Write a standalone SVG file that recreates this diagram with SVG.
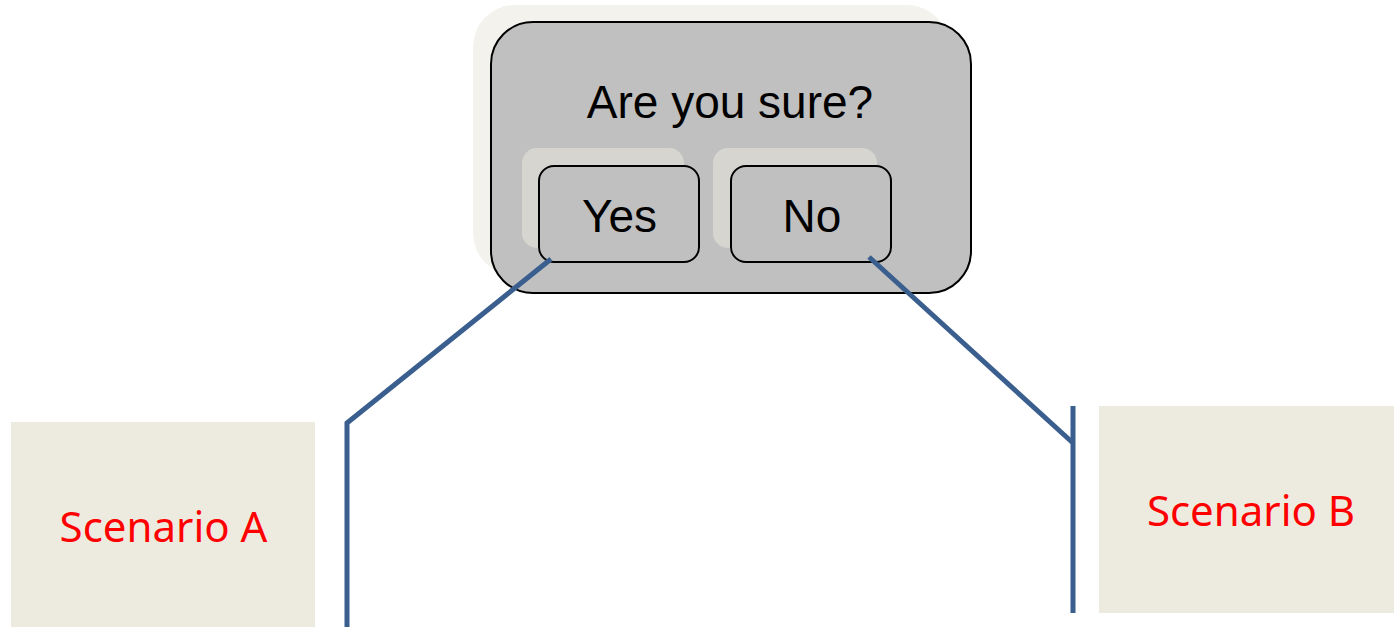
<svg xmlns="http://www.w3.org/2000/svg" width="1394" height="627" viewBox="0 0 1394 627">
<style>
.dlg{font-family:"Liberation Sans",Arial,sans-serif;font-size:46px;fill:#000;text-anchor:middle}
.scn{font-family:"Noto Sans","Open Sans",sans-serif;font-size:42px;fill:#ff0000;text-anchor:middle}
.btn{fill:#c0c0c0;stroke:#000;stroke-width:2}
.bsh{fill:#d6d5d0}
.box{fill:#edebe0}
.con{fill:none;stroke:#3a5f8f;stroke-width:5;stroke-linejoin:miter}
</style>
<rect width="1394" height="627" fill="#fff"/>
<g id="dialog">
<rect x="473" y="5" width="476" height="270" rx="42" fill="#f3f2ed"/>
<rect x="491" y="22" width="480" height="271" rx="42" class="btn"/>
<text x="730" y="118" class="dlg" font-size="48">Are you sure?</text>
</g>
<g id="yes">
<rect x="522" y="148" width="162" height="100" rx="15" class="bsh"/>
<rect x="539" y="166" width="160" height="96" rx="15" class="btn"/>
<text x="619.5" y="232" class="dlg">Yes</text>
</g>
<g id="no">
<rect x="713" y="148" width="164" height="100" rx="15" class="bsh"/>
<rect x="731" y="166" width="160" height="96" rx="15" class="btn"/>
<text x="812" y="232" class="dlg">No</text>
</g>
<g id="scenarioA">
<rect x="11" y="422" width="304" height="205" class="box"/>
<text x="163.5" y="542" class="scn">Scenario A</text>
</g>
<g id="scenarioB">
<rect x="1099" y="406" width="295" height="207" class="box"/>
<text x="1251" y="526" class="scn">Scenario B</text>
</g>
<g id="connectors">
<polyline class="con" points="551,259 347,423 347,627"/>
<polyline class="con" points="869,257 1073,443"/>
<line class="con" x1="1073" y1="406" x2="1073" y2="613"/>
</g>
</svg>
